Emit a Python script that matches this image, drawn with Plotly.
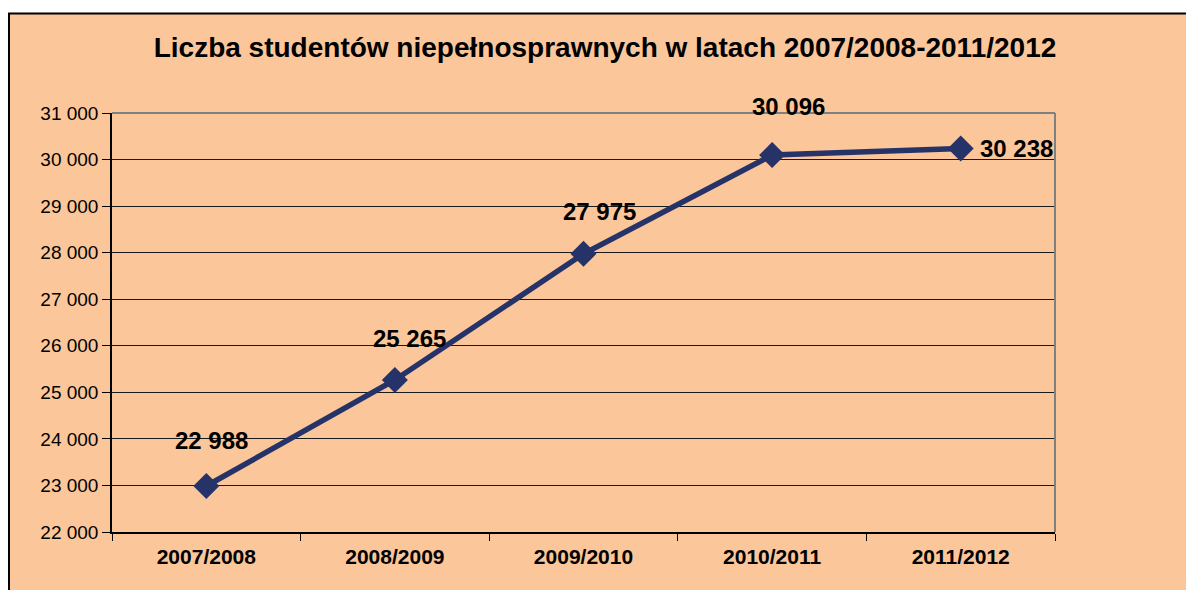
import plotly.graph_objects as go

years = ["2007/2008", "2008/2009", "2009/2010", "2010/2011", "2011/2012"]
students = [22988, 25265, 27975, 30096, 30238]
y_ticks = list(range(22000, 31001, 1000))

title_text = "Liczba studentów niepełnosprawnych w latach 2007/2008-2011/2012"

bg = "#FAC69A"
navy = "#263369"

# label offsets (pixels) relative to each point - styling only
label_dx = [5, 15, 16, 16, 56]
label_dy = [46, 42, 42, 49, 0]

W, H = 1186, 590
L, R, T, B = 112, 131, 113, 58
pw, ph = W - L - R, H - T - B

def fmt(v):
    return f"{v:,}".replace(",", " ")

fig = go.Figure()
fig.add_trace(go.Scatter(
    x=years, y=students, mode="lines+markers",
    line=dict(color=navy, width=5.5),
    marker=dict(symbol="diamond", size=20, color=navy),
    hoverinfo="skip", showlegend=False,
))

for i, (c, v) in enumerate(zip(years, students)):
    fig.add_annotation(
        x=c, y=v, text=fmt(v), showarrow=False,
        xshift=label_dx[i], yshift=label_dy[i],
        font=dict(family="Liberation Sans, Arial", size=24, color="black", weight="bold"),
        xanchor="center", yanchor="middle",
    )

# chart area background with black border
fig.add_shape(
    type="rect", xref="paper", yref="paper",
    x0=(9 - L) / pw, x1=(W + 10 - L) / pw,
    y0=-(H + 10 - (T + ph)) / ph, y1=(T + ph - 13.5) / ph,
    fillcolor=bg, line=dict(color="black", width=2), layer="below",
)
# grey plot-area border (top and right)
fig.add_shape(type="line", xref="paper", yref="paper", x0=0, x1=1, y0=1, y1=1,
              line=dict(color="#808080", width=2), layer="above")
fig.add_shape(type="line", xref="paper", yref="paper", x0=1, x1=1, y0=0, y1=1,
              line=dict(color="#808080", width=2), layer="above")

fig.update_layout(
    width=W, height=H,
    margin=dict(l=L, r=R, t=T, b=B),
    paper_bgcolor="white",
    plot_bgcolor="rgba(0,0,0,0)",
    separators=". ",
    title=dict(
        text=title_text, x=605 / W, xref="container", xanchor="center",
        y=1 - 47 / H, yref="container", yanchor="middle",
        font=dict(family="Liberation Sans, Arial", size=28, color="black", weight="bold"),
    ),
    font=dict(family="Liberation Sans, Arial", color="black"),
)

fig.update_xaxes(
    type="category", range=[-0.5, 4.5],
    showline=True, linecolor="black", linewidth=1.5,
    ticks="outside", tickson="boundaries", ticklen=7, tickcolor="black",
    ticklabelstandoff=5,
    showgrid=False,
    tickfont=dict(family="Liberation Sans, Arial", size=21, color="black", weight="bold"),
)
fig.update_yaxes(
    range=[22000, 31000], tickvals=y_ticks, tickformat=",d",
    showline=True, linecolor="black", linewidth=1.5,
    ticks="outside", ticklen=8, tickcolor="black",
    showgrid=True, gridcolor="#1a1a1a", gridwidth=1,
    zeroline=False,
    tickfont=dict(family="Liberation Sans, Arial", size=19, color="black"),
)

fig.write_html(
    "out.html",
    config={"displayModeBar": False},
    post_script="document.body.style.margin='0';document.body.style.overflow='hidden';",
)
